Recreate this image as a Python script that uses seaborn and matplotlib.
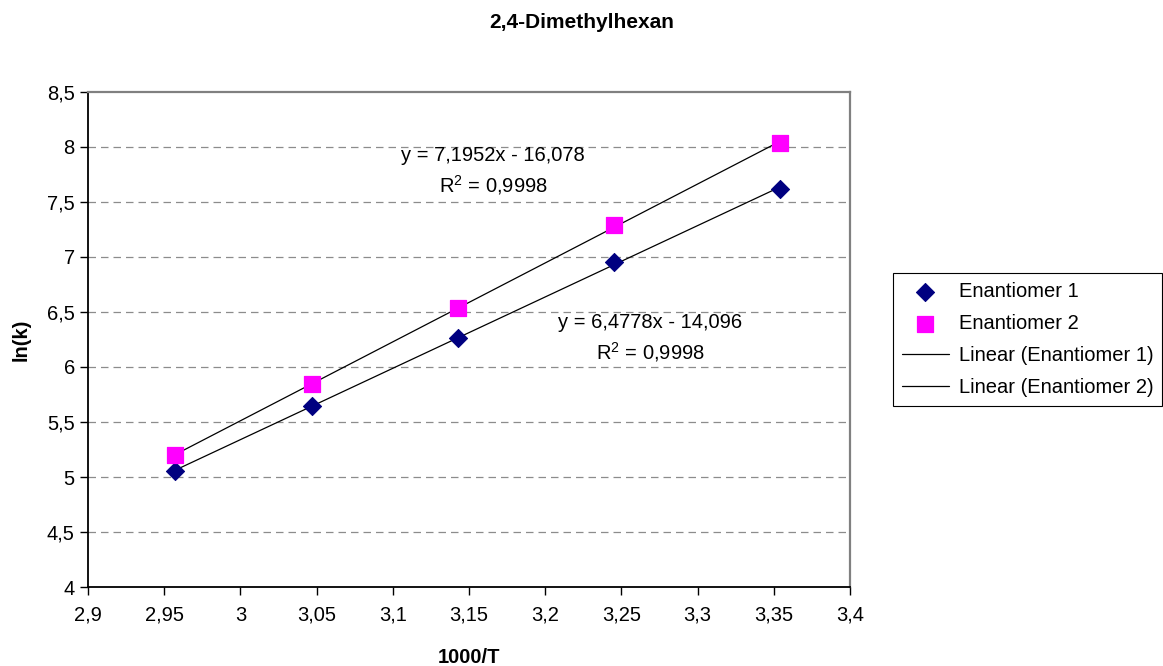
import numpy as np
import pandas as pd
import seaborn as sns
import matplotlib.pyplot as plt
from matplotlib.ticker import FuncFormatter, MultipleLocator

# data
inv_T = [2.957, 3.047, 3.143, 3.245, 3.354]
lnk_e1 = [5.055, 5.645, 6.264, 6.955, 7.618]
lnk_e2 = [5.200, 5.845, 6.536, 7.291, 8.036]
series = ['Enantiomer 1', 'Enantiomer 2']
trend_names = ['Linear (Enantiomer 1)', 'Linear (Enantiomer 2)']
fit_labels = ['y = 7,1952x - 16,078', 'y = 6,4778x - 14,096']
r2_labels = ['R$^{2}$ = 0,9998', 'R$^{2}$ = 0,9998']

sns.set_style('white')
plt.rcParams['font.family'] = ['Liberation Sans', 'DejaVu Sans']
plt.rcParams['mathtext.default'] = 'regular'
plt.rcParams['text.color'] = 'black'
plt.rcParams['axes.labelcolor'] = 'black'

df1 = pd.DataFrame({'x': inv_T, 'y': lnk_e1})
df2 = pd.DataFrame({'x': inv_T, 'y': lnk_e2})

fig = plt.figure(figsize=(11.63, 6.66), dpi=100)
ax = fig.add_axes([0.0757, 0.1186, 0.6552, 0.7433])

# trend lines
sns.regplot(data=df1, x='x', y='y', ax=ax, scatter=False, ci=None, truncate=True,
            label=trend_names[0], line_kws={'color': 'black', 'lw': 0.9})
sns.regplot(data=df2, x='x', y='y', ax=ax, scatter=False, ci=None, truncate=True,
            label=trend_names[1], line_kws={'color': 'black', 'lw': 0.9})

# points
sns.scatterplot(data=df1, x='x', y='y', ax=ax, marker='D', s=85, color='#000080',
                edgecolor='#000080', label=series[0], zorder=3)
sns.scatterplot(data=df2, x='x', y='y', ax=ax, marker='s', s=125, color='#FF00FF',
                edgecolor='#FF00FF', label=series[1], zorder=3)

ax.set_xlim(2.9, 3.4)
ax.set_ylim(4, 8.5)
ax.xaxis.set_major_locator(MultipleLocator(0.05))
ax.yaxis.set_major_locator(MultipleLocator(0.5))
comma = FuncFormatter(lambda v, p: ('%g' % round(v, 2)).replace('.', ','))
ax.xaxis.set_major_formatter(comma)
ax.yaxis.set_major_formatter(comma)
ax.tick_params(axis='both', direction='out', length=5.5, width=1, labelsize=14.5,
               left=True, bottom=True, colors='black')
ax.tick_params(axis='x', pad=8)
ax.tick_params(axis='y', pad=4)

for y in np.arange(4.5, 8.5, 0.5):
    ax.axhline(y, color='#8c8c8c', lw=0.9, dashes=(6, 4), zorder=0)

for s in ['left', 'bottom']:
    ax.spines[s].set_color('black')
    ax.spines[s].set_linewidth(1.3)
for s in ['top', 'right']:
    ax.spines[s].set_color('#808080')
    ax.spines[s].set_linewidth(1.6)

ax.set_xlabel('1000/T', fontsize=14.5, fontweight='bold', labelpad=17)
ax.set_ylabel('ln(k)', fontsize=14.5, fontweight='bold', labelpad=12)
fig.text(0.5, 0.966, '2,4-Dimethylhexan', ha='center', va='center',
         fontsize=15, fontweight='bold')

# regression equations
ax.text(3.1657, 7.918, fit_labels[0], ha='center', va='center', fontsize=14.5)
ax.text(3.1657, 7.655, r2_labels[0], ha='center', va='center', fontsize=14.5)
ax.text(3.2688, 6.40, fit_labels[1], ha='center', va='center', fontsize=14.5)
ax.text(3.2688, 6.136, r2_labels[1], ha='center', va='center', fontsize=14.5)

handles, labels = ax.get_legend_handles_labels()
wanted = series + trend_names
order = [labels.index(n) for n in wanted]
leg = ax.legend([handles[i] for i in order], wanted,
                loc='upper left', bbox_to_anchor=(0.768, 0.59),
                bbox_transform=fig.transFigure, fontsize=14.5, frameon=True,
                fancybox=False, framealpha=1, edgecolor='black',
                handlelength=2.3, handletextpad=0.5, borderpad=0.45,
                labelspacing=0.65, borderaxespad=0)
leg.get_frame().set_linewidth(0.8)

fig.savefig('out.png', dpi=100)
